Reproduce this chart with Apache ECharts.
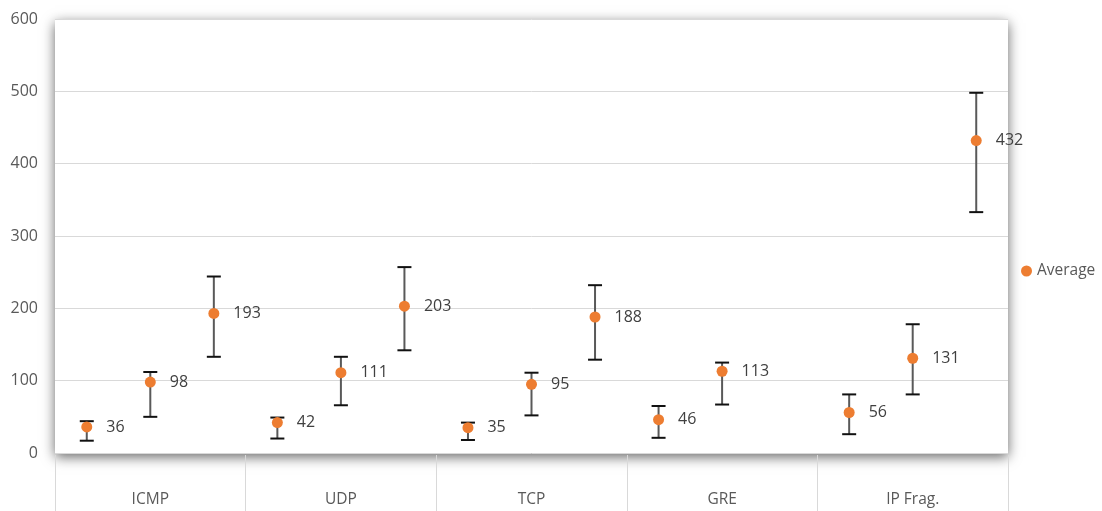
<!DOCTYPE html>
<html>
<head>
<meta charset="utf-8">
<script src="https://cdn.jsdelivr.net/npm/echarts@6/dist/echarts.min.js"></script>
<style>
html,body{margin:0;padding:0;background:#fff;}
#chart{width:1102px;height:511px;}
</style>
</head>
<body>
<div id="chart"></div>
<script>
const groups = ['ICMP', 'UDP', 'TCP', 'GRE', 'IP Frag.'];
const slotsPerGroup = 3;
const averages = [36, 98, 193, 42, 111, 203, 35, 95, 188, 46, 113, null, 56, 131, 432];
const lows     = [17, 50, 133, 20, 66, 142, 18, 52, 129, 21, 67, null, 26, 81, 333];
const highs    = [44, 112, 244, 49, 133, 257, 42, 111, 232, 65, 125, null, 81, 178, 498];
const yMin = 0, yMax = 600, yStep = 100;
const seriesName = 'Average';

const scatterData = [];
const errorData = [];
averages.forEach((v, i) => {
  if (v == null) return;
  scatterData.push([i + 0.5, v]);
  errorData.push([i + 0.5, lows[i], highs[i]]);
});

const font = '"Open Sans", "Noto Sans", sans-serif';
const chart = echarts.init(document.getElementById('chart'), null, {renderer: 'canvas'});
chart.setOption({
  animation: false,
  textStyle: {fontFamily: font},
  legend: {
    data: [seriesName],
    orient: 'vertical',
    left: 1016,
    top: 258,
    icon: 'circle',
    itemWidth: 11,
    itemHeight: 11,
    itemGap: 5,
    textStyle: {color: '#595959', fontSize: 15.5, fontFamily: font}
  },
  grid: [
    {left: 55, right: 94, top: 19, bottom: 58, show: true, backgroundColor: '#fff', borderWidth: 0,
     shadowBlur: 12, shadowColor: 'rgba(0,0,0,0.6)', shadowOffsetX: 0, shadowOffsetY: 4},
    {left: 55, right: 94, top: 455, bottom: 0}
  ],
  xAxis: [
    {type: 'value', gridIndex: 0, min: 0, max: groups.length * slotsPerGroup, show: false},
    {type: 'category', gridIndex: 1, data: groups, position: 'top', boundaryGap: true,
     axisLine: {show: false}, axisTick: {show: false},
     splitLine: {show: true, lineStyle: {color: '#d9d9d9', width: 1}},
     axisLabel: {inside: true, margin: 37, color: '#595959', fontSize: 15.5, fontFamily: font}}
  ],
  yAxis: [
    {type: 'value', gridIndex: 0, min: yMin, max: yMax, interval: yStep,
     axisLine: {show: false}, axisTick: {show: false},
     splitLine: {lineStyle: {color: '#d9d9d9', width: 1}},
     axisLabel: {color: '#595959', fontSize: 16, margin: 17, fontFamily: font}},
    {type: 'value', gridIndex: 1, show: false}
  ],
  series: [
    {
      type: 'custom',
      name: 'error',
      xAxisIndex: 0, yAxisIndex: 0,
      data: errorData,
      z: 2,
      renderItem: function (params, api) {
        const x = api.value(0);
        const pLo = api.coord([x, api.value(1)]);
        const pHi = api.coord([x, api.value(2)]);
        const hw = 7;
        return {
          type: 'group',
          children: [
            {type: 'line', shape: {x1: pLo[0], y1: pLo[1], x2: pHi[0], y2: pHi[1]},
             style: {stroke: '#595959', lineWidth: 2}},
            {type: 'line', shape: {x1: pHi[0] - hw, y1: pHi[1], x2: pHi[0] + hw, y2: pHi[1]},
             style: {stroke: '#111', lineWidth: 2}},
            {type: 'line', shape: {x1: pLo[0] - hw, y1: pLo[1], x2: pLo[0] + hw, y2: pLo[1]},
             style: {stroke: '#111', lineWidth: 2}}
          ]
        };
      }
    },
    {
      type: 'scatter',
      name: seriesName,
      xAxisIndex: 0, yAxisIndex: 0,
      data: scatterData,
      symbol: 'circle',
      symbolSize: 11,
      z: 3,
      itemStyle: {color: '#ed7d31', opacity: 1},
      label: {show: true, position: 'right', distance: 14, color: '#404040', fontSize: 16,
              fontFamily: font, formatter: p => p.value[1]}
    }
  ]
});
</script>
</body>
</html>
